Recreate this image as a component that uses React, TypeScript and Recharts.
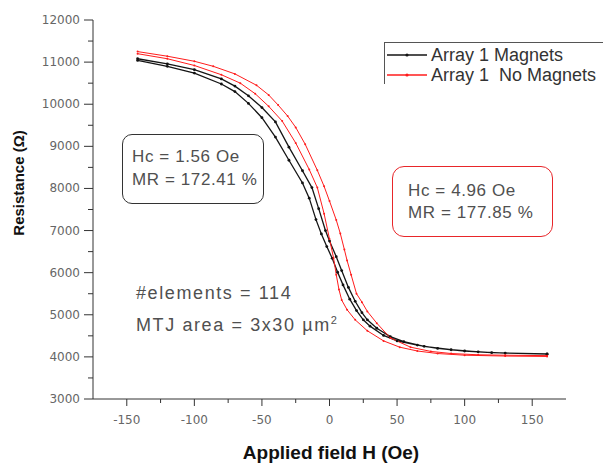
import React from 'react';
import { Legend, Line, LineChart, XAxis, YAxis } from 'recharts';

// sweep -142 -> 161 Oe (up) and back (down)
const magUpField = [-142, -120, -100, -80, -70, -60, -50, -40, -30, -20, -13, -8, -3, 0, 5, 9, 14, 19, 24, 28, 35, 45, 55, 70, 90, 110, 130, 161];
const magUpRes = [11080, 10960, 10820, 10600, 10430, 10200, 9920, 9580, 8980, 8420, 8020, 7520, 7000, 6750, 6380, 6050, 5650, 5320, 5050, 4880, 4680, 4480, 4360, 4250, 4170, 4120, 4090, 4070];
const magDownField = [161, 120, 100, 80, 65, 50, 40, 30, 25, 20, 15, 10, 6, 2, -2, -6, -10, -15, -20, -30, -40, -50, -60, -70, -80, -100, -120, -142];
const magDownRes = [4065, 4100, 4140, 4200, 4280, 4380, 4510, 4730, 4880, 5100, 5370, 5710, 6010, 6340, 6620, 6920, 7260, 7770, 8130, 8670, 9220, 9680, 10020, 10300, 10480, 10740, 10900, 11040];

const noMagUpField = [-142, -120, -100, -86, -70, -54, -45, -38, -31, -25, -18, -9, -4, 0, 5, 8, 11, 13, 16, 20, 24, 28, 35, 45, 60, 75, 90, 110, 130, 161];
const noMagUpRes = [11250, 11140, 11020, 10900, 10720, 10450, 10220, 9980, 9720, 9450, 9050, 8430, 8050, 7700, 7250, 6930, 6550, 6290, 5950, 5500, 5300, 5080, 4800, 4450, 4230, 4130, 4080, 4050, 4040, 4030];
const noMagDownField = [161, 130, 100, 80, 65, 52, 40, 28, 19, 13, 9, 7, 5, 3, 0, -4, -9, -15, -25, -35, -45, -55, -66, -80, -100, -120, -142];
const noMagDownRes = [4010, 4020, 4040, 4080, 4140, 4230, 4380, 4620, 4880, 5120, 5350, 5600, 5950, 6350, 6800, 7400, 8020, 8450, 9080, 9600, 9950, 10250, 10500, 10700, 10920, 11080, 11200];

const seriesNames = ['Array 1 Magnets', 'Array 1  No Magnets'];

const xTicks = [-150, -125, -100, -75, -50, -25, 0, 25, 50, 75, 100, 125, 150];
const xLabelTicks = [-150, -100, -50, 0, 50, 100, 150];
const yTicks = [3000, 3500, 4000, 4500, 5000, 5500, 6000, 6500, 7000, 7500, 8000, 8500, 9000, 9500, 10000, 10500, 11000, 11500, 12000];
const yLabelTicks = [3000, 4000, 5000, 6000, 7000, 8000, 9000, 10000, 11000, 12000];

const toPoints = (field: number[], res: number[]) => field.map((h, i) => ({ h, r: res[i] }));

const magnetsLoop = [...toPoints(magUpField, magUpRes), ...toPoints(magDownField, magDownRes)];
const noMagnetsLoop = [...toPoints(noMagUpField, noMagUpRes), ...toPoints(noMagDownField, noMagDownRes)];

const sans = '"Liberation Sans", Arial, sans-serif';
const tickFont = '"DejaVu Sans", Verdana, sans-serif';

const XTick = (props: any) => {
    const { x, y, payload } = props;
    const major = xLabelTicks.includes(payload.value);
    return (
        <g>
            <line x1={x} y1={y} x2={x} y2={y + (major ? 7 : 4)} stroke="#333" />
            {major && (
                <text x={x} y={y + 25} textAnchor="middle" fill="#666" fontSize={12} fontFamily={tickFont}>
                    {payload.value}
                </text>
            )}
        </g>
    );
};

const YTick = (props: any) => {
    const { x, y, payload } = props;
    const major = yLabelTicks.includes(payload.value);
    return (
        <g>
            <line x1={x - (major ? 9 : 5)} y1={y} x2={x} y2={y} stroke="#333" />
            {major && (
                <text x={x - 13} y={y + 4} textAnchor="end" fill="#666" fontSize={12} fontFamily={tickFont}>
                    {payload.value}
                </text>
            )}
        </g>
    );
};

const LegendBox = (props: any) => {
    const payload = [...(props.payload || [])].sort(
        (a: any, b: any) => seriesNames.indexOf(a.value) - seriesNames.indexOf(b.value)
    );
    return (
        <div
            style={{
                width: 230,
                height: 42,
                borderLeft: '1px solid #555',
                borderTop: '1px solid #555',
                paddingTop: 2,
                boxSizing: 'border-box',
                fontFamily: sans,
                fontSize: 18,
                color: '#333',
            }}
        >
            {payload.map((entry: any) => (
                <div key={entry.value} style={{ display: 'flex', alignItems: 'center', height: 20, whiteSpace: 'pre' }}>
                    <svg width={46} height={20} style={{ flexShrink: 0 }}>
                        <line x1={2} y1={10} x2={42} y2={10} stroke={entry.color} strokeWidth={1.3} />
                        <circle cx={22} cy={10} r={1.6} fill={entry.color} />
                    </svg>
                    <span>{entry.value}</span>
                </div>
            ))}
        </div>
    );
};

const boxText: React.CSSProperties = {
    position: 'absolute',
    fontFamily: sans,
    fontSize: 17,
    color: '#505050',
    whiteSpace: 'pre',
    boxSizing: 'border-box',
};

export default function App() {
    return (
        <div style={{ position: 'absolute', left: 0, top: 0, width: 603, height: 464, background: '#fff', overflow: 'hidden' }}>
            <LineChart width={603} height={464} margin={{ top: 20, right: 37, bottom: 0, left: 0 }}>
                <XAxis
                    type="number"
                    dataKey="h"
                    domain={[-175, 175]}
                    ticks={xTicks}
                    interval={0}
                    tick={<XTick />}
                    tickLine={false}
                    tickSize={0}
                    tickMargin={0}
                    height={65}
                    axisLine={{ stroke: '#333' }}
                    allowDataOverflow
                    label={{
                        content: () => (
                            <text x={331} y={459} textAnchor="middle" fontFamily={sans} fontWeight="bold" fontSize={19} fill="#111">
                                Applied field H (Oe)
                            </text>
                        ),
                    }}
                />
                <YAxis
                    type="number"
                    dataKey="r"
                    domain={[3000, 12000]}
                    ticks={yTicks}
                    interval={0}
                    tick={<YTick />}
                    tickLine={false}
                    tickSize={0}
                    tickMargin={0}
                    width={93}
                    axisLine={{ stroke: '#333' }}
                    allowDataOverflow
                    label={{
                        content: () => (
                            <text
                                x={24}
                                y={183}
                                transform="rotate(-90 24 183)"
                                textAnchor="middle"
                                fontFamily={sans}
                                fontWeight="bold"
                                fontSize={15}
                                fill="#111"
                            >
                                Resistance (Ω)
                            </text>
                        ),
                    }}
                />
                <Legend
                    layout="vertical"
                    align="center"
                    verticalAlign="middle"
                    content={<LegendBox />}
                    wrapperStyle={{ left: 384, top: 42, width: 230, height: 42 }}
                />
                <Line
                    data={magnetsLoop}
                    dataKey="r"
                    name={seriesNames[0]}
                    type="linear"
                    stroke="#151515"
                    strokeWidth={1.3}
                    dot={{ r: 1.4, fill: '#111', stroke: 'none' }}
                    activeDot={false}
                    isAnimationActive={false}
                />
                <Line
                    data={noMagnetsLoop}
                    dataKey="r"
                    name={seriesNames[1]}
                    type="linear"
                    stroke="#ff1c1c"
                    strokeWidth={1}
                    dot={{ r: 1, fill: '#ff1c1c', stroke: 'none' }}
                    activeDot={false}
                    isAnimationActive={false}
                />
            </LineChart>

            <div
                style={{
                    ...boxText,
                    left: 122,
                    top: 134,
                    width: 142,
                    height: 70,
                    border: '1.5px solid #333',
                    borderRadius: 10,
                    paddingLeft: 9,
                    paddingTop: 10,
                    lineHeight: '23px',
                    letterSpacing: 0.6,
                }}
            >
                {'Hc = 1.56 Oe\nMR = 172.41 %'}
            </div>
            <div
                style={{
                    ...boxText,
                    left: 392,
                    top: 166,
                    width: 161,
                    height: 71,
                    border: '1.5px solid #e8262a',
                    borderRadius: 12,
                    paddingLeft: 15,
                    paddingTop: 13,
                    lineHeight: '22px',
                    letterSpacing: 0.6,
                }}
            >
                {'Hc = 4.96 Oe\nMR = 177.85 %'}
            </div>
            <div style={{ ...boxText, left: 136, top: 277, lineHeight: '32px', fontSize: 18, letterSpacing: 1.6 }}>
                <div>#elements = 114</div>
                <div>
                    MTJ area = 3x30 µm<sup style={{ fontSize: 11, verticalAlign: 'top', lineHeight: '22px' }}>2</sup>
                </div>
            </div>
        </div>
    );
}
